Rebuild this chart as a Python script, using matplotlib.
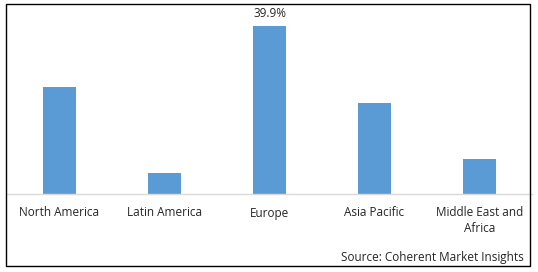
import matplotlib.pyplot as plt
from matplotlib.patches import Rectangle

regions = ["North America", "Latin America", "Europe", "Asia Pacific", "Middle East and\nAfrica"]
share = [25.4, 5.0, 39.9, 21.6, 8.3]
top_label = "39.9%"

plt.rcParams['font.family'] = ['Open Sans', 'DejaVu Sans']

fig = plt.figure(figsize=(5.38, 2.72), dpi=100)
ax = fig.add_axes([7/538, 78/272, 525/538, 184/272])

x = range(len(regions))
ax.bar(x, share, width=0.314, color="#5B9BD5")
ax.set_xlim(-0.5, len(regions) - 0.5)
ax.set_ylim(0, 43.7)

ax.set_xticks(list(x))
ax.set_xticklabels(regions, fontsize=8.5, color="#262626", linespacing=1.3, va="top")
ax.tick_params(axis="x", length=0, pad=9)
ax.set_yticks([])
for s in ["top", "left", "right"]:
    ax.spines[s].set_visible(False)
ax.spines["bottom"].set_color("#D9D9D9")
ax.spines["bottom"].set_linewidth(1)

i = share.index(max(share))
ax.annotate(top_label, (i, share[i]), xytext=(0, 4), textcoords="offset points",
            ha="center", va="bottom", fontsize=8.5, color="#262626")

fig.text(524/538, 1 - 258/272, "Source: Coherent Market Insights", ha="right", va="center",
         fontsize=8.5, color="#262626")

fig.patches.append(Rectangle((6/538, 6/272), 524/538, 262/272, transform=fig.transFigure,
                             fill=False, edgecolor="black", linewidth=1))

fig.savefig("out.png", dpi=100)
